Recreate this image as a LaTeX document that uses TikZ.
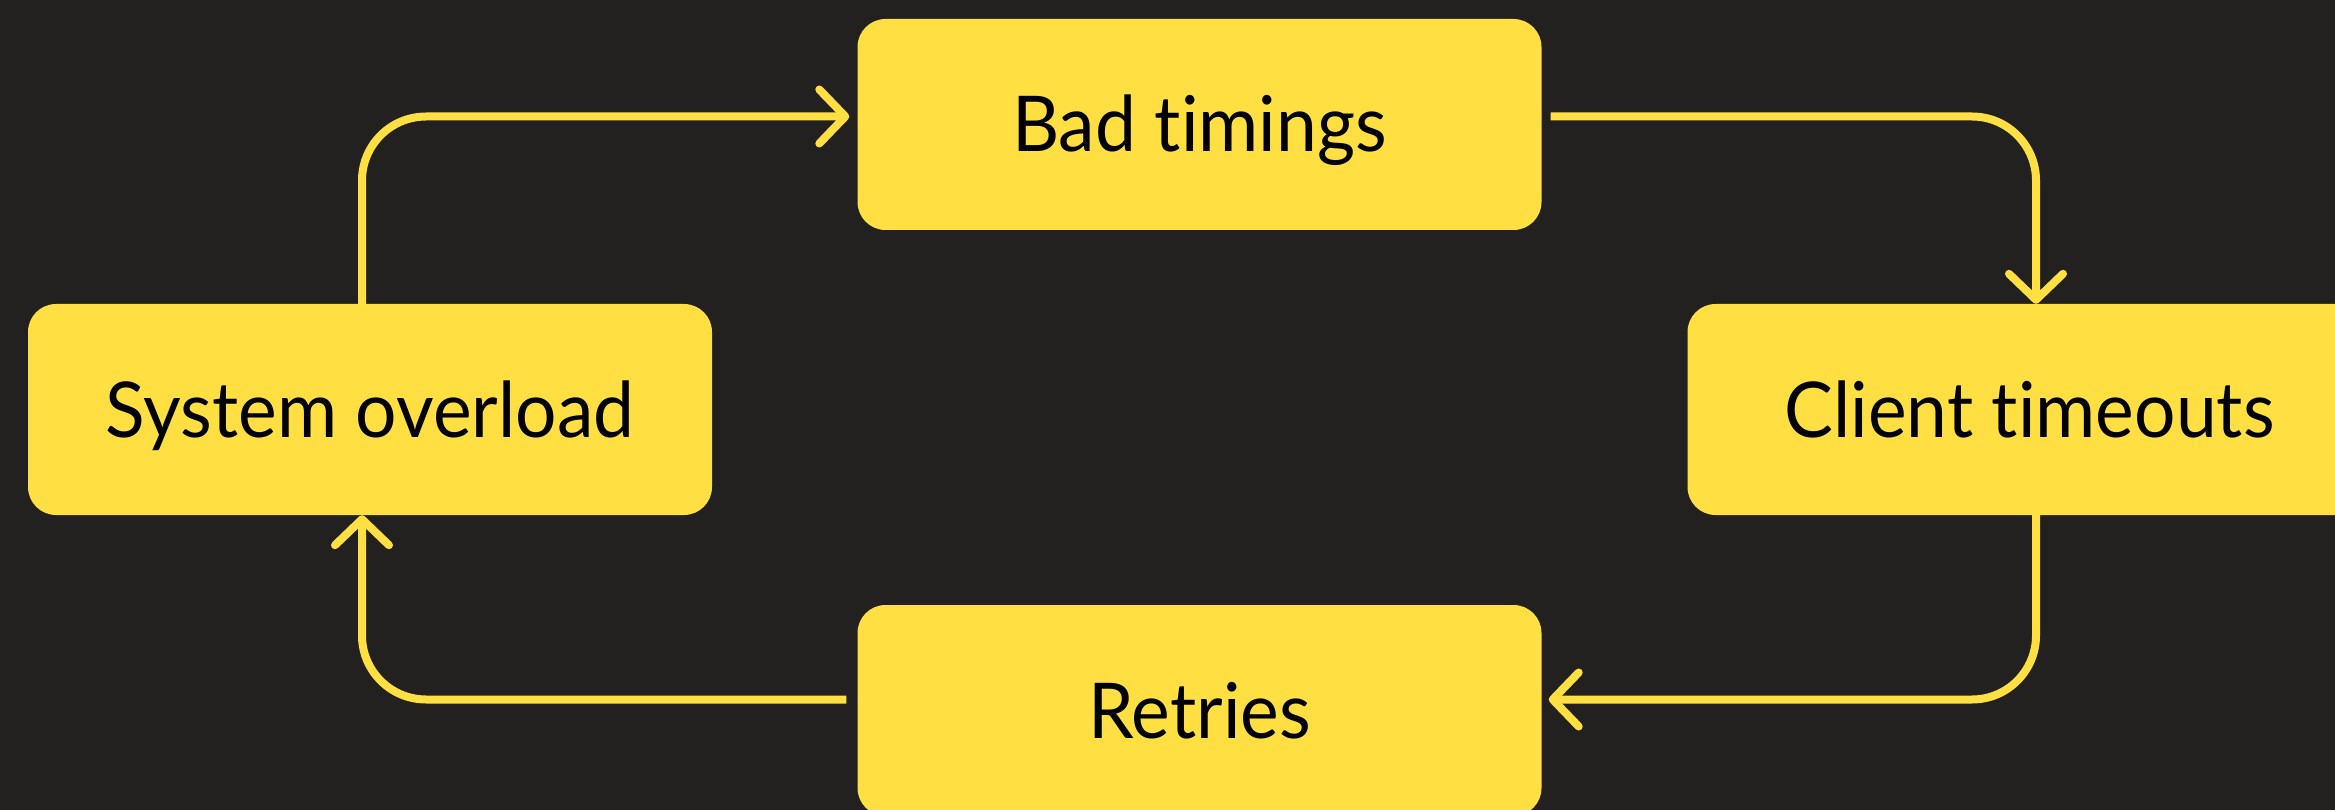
\documentclass[tikz,border=0pt]{standalone}
\usepackage{fontspec}
\setmainfont[Ligatures={NoCommon,NoDiscretionary},FakeStretch=0.95]{Lato}
\usetikzlibrary{arrows.meta}
\definecolor{bg}{HTML}{222120}
\definecolor{sun}{HTML}{FFDF41}
\begin{document}
\begin{tikzpicture}[x=1pt,y=-1pt,
  box/.style={fill=sun, rounded corners=28pt, minimum width=684pt,
    minimum height=211pt, inner sep=0pt, text height=55pt, text depth=0pt,
    font=\fontsize{77}{90}\selectfont, text=black},
  conn/.style={draw=sun, line width=8pt, rounded corners=64pt},
  tip/.style={-{Straight Barb[length=26pt,width=54pt,line cap=round,line join=round]}}
]
% canvas
\fill[bg] (0,0) rectangle (2335,810);
\useasboundingbox (0,0) rectangle (2335,810);
\clip (0,0) rectangle (2335,810);

% the four stages of the loop
\node[box] (bad)     at (1199.5,124.5) {Bad timings};
\node[box] (sys)     at (370,409.5)    {System overload};
\node[box] (client)  at (2029.5,409.5) {Client timeouts};
\node[box] (retries) at (1199.5,710.5) {Retries};

% connectors around the cycle
\draw[conn,tip] ([xshift=-8pt]sys.north) |- ([xshift=-8pt,yshift=8pt]bad.west);
\draw[conn,tip] ([xshift=9pt,yshift=8pt]bad.east) -| ([xshift=6.5pt]client.north);
\draw[conn,tip] ([xshift=6.5pt]client.south) |- ([xshift=7pt,yshift=11pt]retries.east);
\draw[conn,tip] ([xshift=-11pt,yshift=11pt]retries.west) -| ([xshift=-8pt]sys.south);
\end{tikzpicture}
\end{document}
